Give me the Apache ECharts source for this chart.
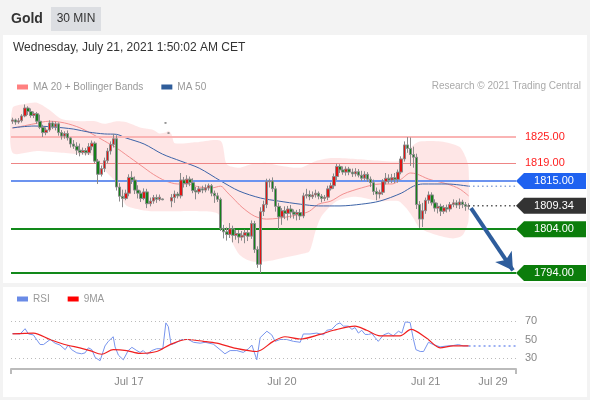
<!DOCTYPE html>
<html><head><meta charset="utf-8">
<script src="https://cdn.jsdelivr.net/npm/echarts@6/dist/echarts.min.js"></script>
<style>html,body{margin:0;padding:0;background:#f3f3f3}#c{width:590px;height:400px}</style>
</head><body><div id="c"></div>
<script>
// ---- candle data (30 min bars) ----
const opens = [1828.6,1828.9,1828.4,1828.7,1829.8,1831.6,1830.8,1829.9,1830.3,1828.6,
1827.2,1826.0,1826.6,1828.2,1827.3,1828.0,1826.0,1825.2,1825.8,1824.8,
1823.4,1822.9,1822.0,1821.5,1821.9,1821.4,1822.8,1823.6,1819.5,1816.5,
1817.8,1819.6,1821.8,1823.3,1824.6,1813.6,1811.5,1811.0,1812.2,1815.8,
1815.2,1812.9,1812.2,1811.0,1812.5,1809.8,1810.4,1811.2,1810.8,1810.9,
1828.2,1825.9,1810.4,1811.2,1812.0,1811.6,1815.2,1814.4,1815.4,1814.6,
1812.8,1812.5,1813.2,1812.9,1813.4,1813.9,1812.2,1811.6,1810.8,1804.2,
1803.4,1802.8,1804.1,1802.6,1803.0,1802.2,1802.6,1803.2,1802.4,1805.3,
1799.4,1796.0,1808.0,1809.6,1814.8,1815.0,1813.2,1809.2,1806.8,1808.2,
1807.6,1808.6,1807.9,1807.4,1807.8,1807.0,1811.6,1811.9,1811.4,1811.8,
1812.2,1811.5,1811.0,1811.3,1813.2,1813.9,1816.0,1818.3,1817.5,1817.0,
1817.7,1817.0,1816.6,1817.1,1816.3,1815.6,1816.5,1815.4,1814.6,1812.6,
1812.0,1812.4,1814.8,1815.6,1815.2,1815.7,1815.3,1817.0,1820.0,1823.2,
1822.4,1821.0,1820.4,1809.6,1806.3,1808.2,1810.6,1811.8,1810.0,1808.8,
1809.2,1808.1,1808.9,1808.6,1809.6,1810.0,1809.5,1810.2,1809.6,1809.2];
const closes = [1828.9,1828.4,1828.7,1829.8,1831.6,1830.8,1829.9,1830.3,1828.6,1827.2,
1826.0,1826.6,1828.2,1827.3,1828.0,1826.0,1825.2,1825.8,1824.8,1823.4,
1822.9,1822.0,1821.5,1821.9,1821.4,1822.8,1823.6,1819.5,1816.5,1817.8,
1819.6,1821.8,1823.3,1824.6,1813.6,1811.5,1811.0,1812.2,1815.8,1815.2,
1812.9,1812.2,1811.0,1812.5,1809.8,1810.4,1811.2,1810.8,1811.3,1810.7,
1828.2,1825.9,1811.2,1812.0,1811.6,1815.2,1814.4,1815.4,1814.6,1812.8,
1812.5,1813.2,1812.9,1813.4,1813.9,1812.2,1811.6,1810.8,1804.2,1803.4,
1802.8,1804.1,1802.6,1803.0,1802.2,1802.6,1803.2,1802.4,1805.3,1799.4,
1796.0,1808.0,1809.6,1814.8,1815.0,1813.2,1809.2,1806.8,1808.2,1807.6,
1808.6,1807.9,1807.4,1807.8,1807.0,1811.6,1811.9,1811.4,1811.8,1812.2,
1811.5,1811.0,1811.3,1813.2,1813.9,1816.0,1818.3,1817.5,1817.0,1817.7,
1817.0,1816.6,1817.1,1816.3,1815.6,1816.5,1815.4,1814.6,1812.6,1812.0,
1812.4,1814.8,1815.6,1815.2,1815.7,1815.3,1817.0,1820.0,1823.2,1822.4,
1821.0,1820.4,1809.6,1806.3,1808.2,1810.6,1811.8,1810.0,1808.8,1809.2,
1808.1,1808.9,1808.6,1809.6,1810.0,1809.5,1810.2,1809.6,1809.2,1809.34];
const lows = [1828.0,1827.8,1828.0,1828.3,1829.5,1830.0,1829.4,1829.3,1828.0,1826.8,
1825.0,1825.4,1826.2,1826.8,1826.5,1825.3,1824.4,1824.6,1824.2,1822.6,
1822.3,1820.9,1820.6,1821.0,1820.8,1820.9,1822.0,1819.0,1814.3,1816.0,
1817.0,1819.0,1821.0,1822.6,1812.8,1810.3,1809.0,1810.6,1811.5,1814.3,
1812.0,1811.0,1810.2,1810.6,1808.8,1809.2,1809.8,1810.0,1810.4,1810.6,
1828.1,1825.8,1809.0,1810.0,1811.0,1811.0,1813.5,1813.6,1813.8,1812.2,
1810.8,1812.0,1812.2,1812.4,1812.8,1811.5,1810.0,1810.2,1803.6,1801.9,
1801.4,1802.0,1801.0,1801.6,1800.8,1801.4,1800.8,1801.3,1801.8,1798.6,
1795.2,1794.0,1807.0,1808.8,1813.5,1812.5,1808.0,1804.0,1805.0,1806.3,
1806.0,1806.5,1806.4,1806.0,1806.1,1806.5,1811.0,1810.6,1810.9,1811.2,
1810.8,1810.1,1810.4,1810.6,1812.8,1813.2,1815.2,1816.8,1816.4,1816.2,
1816.3,1815.9,1816.0,1815.8,1815.0,1815.1,1814.8,1813.6,1811.8,1810.6,
1811.0,1811.8,1814.2,1814.4,1814.5,1814.5,1814.6,1816.5,1819.4,1821.4,
1818.4,1818.0,1808.6,1804.3,1804.5,1807.5,1809.8,1809.4,1808.0,1807.6,
1807.0,1807.5,1807.8,1808.0,1809.0,1808.8,1808.6,1808.8,1808.2,1808.5];
const highs = [1829.4,1829.2,1829.3,1830.2,1832.4,1832.0,1831.5,1830.8,1830.7,1830.1,
1827.8,1827.2,1828.8,1828.6,1828.5,1828.3,1826.6,1826.3,1826.5,1825.0,
1824.3,1823.8,1823.5,1822.6,1822.5,1823.6,1824.2,1824.0,1820.0,1818.5,
1820.3,1822.5,1824.0,1825.7,1825.4,1814.5,1813.0,1813.0,1816.5,1817.2,
1816.0,1814.0,1812.8,1813.3,1813.2,1811.2,1811.8,1811.9,1811.9,1811.0,
1828.3,1826.0,1812.0,1812.8,1812.5,1816.8,1815.9,1816.3,1816.0,1815.6,
1813.6,1813.8,1813.9,1814.2,1814.4,1814.3,1812.8,1812.3,1811.2,1805.0,
1804.4,1805.4,1804.8,1803.8,1803.8,1803.6,1803.9,1803.8,1806.0,1805.9,
1800.1,1809.0,1810.5,1815.5,1815.5,1815.8,1813.8,1810.0,1808.8,1809.2,
1809.3,1809.5,1808.5,1808.4,1808.6,1812.3,1813.2,1812.8,1812.6,1813.0,
1812.6,1812.0,1811.8,1813.9,1814.6,1816.7,1818.9,1818.8,1818.3,1818.3,
1818.2,1817.8,1817.9,1817.7,1817.3,1817.2,1817.0,1816.0,1815.3,1813.5,
1813.0,1815.4,1816.8,1816.5,1816.6,1816.8,1817.6,1820.6,1824.0,1825.0,
1824.9,1822.8,1821.2,1810.4,1810.0,1811.2,1812.6,1812.4,1810.8,1810.0,
1809.8,1809.5,1809.6,1810.2,1810.8,1810.6,1811.0,1810.7,1810.2,1809.9];

// ---- indicator readings (bar position, value) ----
const ma20X = [0,7,12,17,22,26,30,34,37,42,46,50,54,57,61,65,68,70,72,75,79,83,87,94,97,100,104,108,114,120,124,127,130,132,136,142,146,149];
const ma20  = [1827.0,1828.0,1828.6,1828.2,1827.1,1825.7,1824.1,1822.5,1821.0,1818.5,1816.5,1815.0,1814.3,1814.3,1813.6,1813.4,1813.8,1812.5,1811.1,1809.0,1807.0,1806.3,1806.5,1807.4,1808.1,1809.7,1810.4,1812.0,1813.4,1814.3,1814.3,1815.4,1816.8,1816.6,1815.4,1814.3,1813.2,1811.6];
const ma50X = [0,7,13,20,25,30,34,37,43,49,55,61,68,74,81,87,94,100,107,114,120,127,131,134,142,149];
const ma50  = [1827.1,1827.5,1827.3,1826.8,1826.1,1825.7,1825.6,1824.8,1823.4,1821.1,1819.5,1817.9,1815.0,1812.7,1811.1,1810.4,1809.7,1809.3,1809.3,1809.7,1810.4,1812.2,1813.8,1814.3,1814.3,1813.8];
const bbUpperX = [0,4,8,12,16,22,27,30,34,37,42,46,48,50,51,52,53,60,68,70,74,78,83,88,94,99,104,112,120,126,128,131,133,140,146,148,149];
const bbUpper  = [1831.6,1832.5,1832.8,1831.2,1829.1,1828.6,1828.6,1828.0,1828.6,1828.4,1827.1,1826.6,1825.8,1826.0,1826.4,1825.5,1823.6,1823.8,1824.1,1818.8,1818.0,1818.8,1819.1,1818.4,1818.0,1819.5,1820.2,1820.0,1819.6,1819.5,1821.0,1823.2,1824.0,1824.0,1822.8,1820.5,1818.0];
const bbLowerX = [0,8,16,22,27,30,34,37,42,46,50,55,61,67,70,74,78,83,88,94,97,99,101,106,112,120,126,129,131,133,138,144,147,149];
const bbLower  = [1821.4,1821.8,1821.4,1821.0,1820.5,1817.5,1814.5,1809.5,1808.4,1808.1,1808.1,1808.1,1808.1,1807.6,1803.6,1798.3,1796.7,1796.7,1797.4,1798.3,1799.0,1803.6,1807.0,1810.4,1811.4,1810.4,1810.4,1808.5,1806.5,1804.3,1802.8,1801.9,1802.6,1806.0];
const rsiX = [0,2.5,4.1,5.2,6.8,9,10.1,12.3,13.9,15.5,17.2,18.2,19.3,21,22.6,23.7,24.8,25.9,27,28.6,29.1,30.2,31.3,32.9,33.5,34.6,36.2,37.8,39,40.6,41.7,42.7,43.9,45.5,47.1,49.1,50.1,50.9,51.8,53.1,55.3,57.5,59.1,61.3,62.9,65.6,67.8,69.4,71.1,73.3,75.4,77.1,78.2,79.8,80.9,83.1,84.7,85.8,87.4,89.6,91.8,94,95,97.2,99.4,101.6,102.7,104.3,105.9,107,108.1,109.7,110.9,111.9,113,114.1,115.2,116.3,117.4,118.5,119.5,120.1,121.2,122.8,124.4,126.1,127.2,128.3,129.9,131,131.8,133.2,134.3,135.9,137.5,139.7,141.9,144,145.7,147.3,149];
const rsiV = [56.5,56,61.7,56,55,44.6,44.5,50,46,44,39,44,39,35.5,34.5,35.5,41,39,30.5,27,27.5,43,48,53,42,33,28,38,41.5,38,36,38,34,38,40,40,68,64,44.5,46,50,50,47,46,47,45,39,34.5,38,38,36,40,44,28,52,59,55,48,50,50,48,47,56,56,57,55,60,61,66.5,68,64.5,64.5,61,63,57,60,55.5,55.5,56.5,52,48,48,55,57,54,59,57,69,68.5,50,39,37,37,47,44.5,42,43,43.5,44.5,43,43];
const ma9X = [0,6.8,12.3,17.7,22,25.3,29.1,32.9,37.3,41.7,47.1,51.5,56.9,62.4,66.7,72.2,79.8,85.2,89,94,100.5,104.9,111.9,115.7,120.1,126.6,130.2,135.1,139.7,144,149];
const ma9V = [56,57,50,44,41,38,34,39,38,35,37,44.5,50,48,46,41,37,48,53,50.5,55.5,60,64.5,60,54,54,61,52,41,43,43];

// ---- levels, labels ----
const levelValues = [1825, 1819, 1815, 1804, 1794];
const tagValues = [1815, 1809.34, 1804, 1794];
const rsiLevels = [70, 50, 30];
const tickLabels = ['Jul 17', 'Jul 20', 'Jul 21', 'Jul 29'];
const tickBars = [38, 88, 135, 157];
const arrowFrom = [149.8, 1808.8];
const arrowTo = [163.5, 1794.6];
const slotCount = 165;

// ---- styles ----
const levelStyles = [
  {color:'#fab4b4', width:2, label:true},
  {color:'#ee8585', width:1, label:true},
  {color:'#6c93ef', width:2, label:false},
  {color:'#12891a', width:2, label:false},
  {color:'#12891a', width:2, label:false}
];
const tagColors = ['#1f62f0', '#333333', '#0b7d0b', '#0b7d0b'];
const FONT = 'Liberation Sans, Arial, sans-serif';

const xy = (xs, ys) => xs.map((x, k) => [x, ys[k]]);
const candleData = opens.map((o, k) => [o, closes[k], lows[k], highs[k]]);
const categories = Array.from({length: slotCount}, (_, k) => {
  const j = tickBars.indexOf(k); return j >= 0 ? tickLabels[j] : '';
});
const lastBar = closes.length - 1;
const rightEdge = slotCount - 0.5;
const tagPath = 'path://M0,8L8,0L70,0L70,16L8,16Z';

const chart = echarts.init(document.getElementById('c'));
chart.setOption({
  backgroundColor: '#f3f3f3',
  animation: false,
  textStyle: {fontFamily: FONT},
  graphic: [
    {type:'rect', z:-10, shape:{x:3, y:35, width:584, height:248}, style:{fill:'#ffffff'}},
    {type:'rect', z:-10, shape:{x:3, y:287, width:584, height:110}, style:{fill:'#ffffff'}},
    {type:'text', x:11, y:19, style:{text:'Gold', font:'bold 14px ' + FONT, fill:'#333', verticalAlign:'middle'}},
    {type:'rect', shape:{x:51, y:7, width:50, height:24}, style:{fill:'#dcdee2'}},
    {type:'text', x:76, y:19, style:{text:'30 MIN', font:'12px ' + FONT, fill:'#333', align:'center', verticalAlign:'middle'}},
    {type:'text', x:13, y:48, style:{text:'Wednesday, July 21, 2021 1:50:02 AM CET', font:'12px ' + FONT, fill:'#333', verticalAlign:'middle'}},
    {type:'text', x:581, y:86, style:{text:'Research \u00a9 2021 Trading Central', font:'10px ' + FONT, fill:'#aaa', align:'right', verticalAlign:'middle'}}
  ],
  legend: [
    {data:['MA 20 + Bollinger Bands', 'MA 50'], left:12, top:77, icon:'rect', itemWidth:11, itemHeight:5, itemGap:18,
     textStyle:{color:'#999', fontSize:10}, selectedMode:false},
    {data:['RSI', '9MA'], left:12, top:289, icon:'rect', itemWidth:11, itemHeight:5, itemGap:18,
     textStyle:{color:'#999', fontSize:10}, selectedMode:false}
  ],
  grid: [
    {left:11, right:74, top:101, height:180},
    {left:11, right:74, top:310, height:59}
  ],
  xAxis: [
    {type:'category', gridIndex:0, data:categories, show:false},
    {type:'value', gridIndex:0, min:-0.5, max:rightEdge, show:false},
    {type:'category', gridIndex:1, data:categories,
     axisLine:{lineStyle:{color:'#bbb', width:2}},
     axisTick:{show:true, length:5, lineStyle:{color:'#bbb', width:2}, interval:(i) => i === 0},
     axisLabel:{interval:(i, v) => v !== '', color:'#888', fontSize:11, margin:7},
     splitLine:{show:false}},
    {type:'value', gridIndex:1, min:-0.5, max:rightEdge, show:false}
  ],
  yAxis: [
    {type:'value', gridIndex:0, min:1792.2, max:1833.2, show:false},
    {type:'value', gridIndex:1, min:18, max:82, show:false}
  ],
  series: [
    {type:'custom', xAxisIndex:1, yAxisIndex:0, silent:true, z:1, clip:false,
     data:[[bbUpperX[0], bbUpper[0]]],
     renderItem: (params, api) => {
       const pts = [];
       for (let k = 0; k < bbUpperX.length; k++) pts.push(api.coord([bbUpperX[k], bbUpper[k]]));
       for (let k = bbLowerX.length - 1; k >= 0; k--) pts.push(api.coord([bbLowerX[k], bbLower[k]]));
       return {type:'polygon', shape:{points:pts, smooth:0.25}, style:{fill:'rgba(250,165,165,0.28)'}};
     }},
    {name:'MA 20 + Bollinger Bands', type:'line', xAxisIndex:1, yAxisIndex:0, z:3,
     data: xy(ma20X, ma20), smooth:0.3, showSymbol:false,
     lineStyle:{color:'#f29090', width:1}, itemStyle:{color:'#ff8080'},
     markLine:{silent:true, symbol:'none', precision:2,
       data: levelValues.map((v, k) => ({yAxis:v,
         lineStyle:{color:levelStyles[k].color, width:levelStyles[k].width, type:'solid'},
         label:{show:levelStyles[k].label, position:'end', distance:9, color:'#ff2020', fontSize:11,
                formatter:(p) => Number(p.value).toFixed(2)}}))}},
    {name:'MA 50', type:'line', xAxisIndex:1, yAxisIndex:0, z:3,
     data: xy(ma50X, ma50), smooth:0.3, showSymbol:false,
     lineStyle:{color:'#3d64a8', width:1}, itemStyle:{color:'#2f5d9a'}},
    {type:'line', xAxisIndex:1, yAxisIndex:0, z:3, showSymbol:false, silent:true,
     data:[[ma50X[ma50X.length-1], ma50[ma50.length-1]], [rightEdge, ma50[ma50.length-1]]],
     lineStyle:{color:'#8aa3d6', width:1.5, type:[1.5,3]}},
    {type:'line', xAxisIndex:1, yAxisIndex:0, z:6, showSymbol:false, silent:true,
     data:[[lastBar, closes[lastBar]], [rightEdge, closes[lastBar]]],
     lineStyle:{color:'#555', width:1.5, type:[1.5,3]},
     markPoint:{silent:true, symbol:tagPath, symbolSize:[70,16], symbolKeepAspect:false, symbolOffset:[35,0],
       label:{show:true, position:'inside', color:'#fff', fontSize:11, offset:[3,0], formatter:'{b}'},
       data: tagValues.map((v, k) => ({coord:[rightEdge, v], name:v.toFixed(2), itemStyle:{color:tagColors[k]}}))},
     markLine:{silent:true, symbol:['none','arrow'], symbolSize:[15,17],
       lineStyle:{color:'#2e5d9c', width:4, type:'solid'}, label:{show:false},
       data:[[{coord:arrowFrom}, {coord:arrowTo}]]}},
    {type:'candlestick', xAxisIndex:0, yAxisIndex:0, z:5, barWidth:3, data:candleData,
     itemStyle:{color:'#e01414', color0:'#15801a', borderColor:'#8a8a8a', borderColor0:'#8a8a8a', borderWidth:1}},
    {name:'RSI', type:'line', xAxisIndex:3, yAxisIndex:1, z:3, showSymbol:false,
     data: xy(rsiX, rsiV), lineStyle:{color:'#7895ee', width:1}, itemStyle:{color:'#6a8be6'}},
    {name:'9MA', type:'line', xAxisIndex:3, yAxisIndex:1, z:4, showSymbol:false, smooth:0.3,
     data: xy(ma9X, ma9V), lineStyle:{color:'#f02020', width:1.2}, itemStyle:{color:'#ff0000'},
     markLine:{silent:true, symbol:'none',
       data: rsiLevels.map(v => ({yAxis:v})),
       lineStyle:{color:'#bbb', width:1, type:[1,3]},
       label:{position:'end', distance:9, color:'#888', fontSize:11}}},
    {type:'line', xAxisIndex:3, yAxisIndex:1, z:3, showSymbol:false, silent:true,
     data:[[rsiX[rsiX.length-1], rsiV[rsiV.length-1]], [rightEdge, rsiV[rsiV.length-1]]],
     lineStyle:{color:'#9db1f3', width:2, type:[2,3]}}
  ]
});
</script>
</body></html>
